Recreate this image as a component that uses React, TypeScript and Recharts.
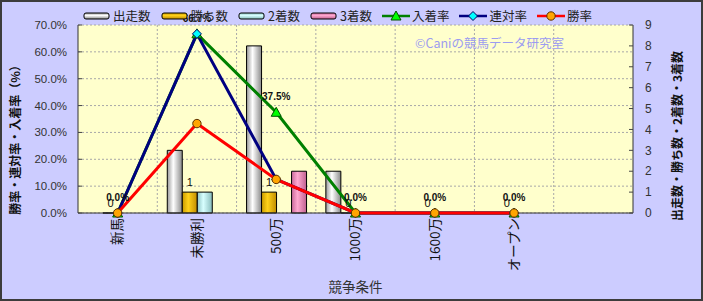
import React from 'react';
import {
  ComposedChart,
  Bar,
  Line,
  XAxis,
  YAxis,
  CartesianGrid,
  Legend,
  LabelList,
  Label,
  Customized,
} from 'recharts';

// ---- data ----
const CATEGORIES = ['新馬', '未勝利', '500万', '1000万', '1600万', 'オープン', ''];
const RUNS = [0, 3, 8, 2, 0, 0, null];
const WINS = [0, 1, 1, 0, 0, 0, null];
const SECONDS = [0, 1, 0, 0, 0, 0, null];
const THIRDS = [0, 0, 2, 0, 0, 0, null];
const PLACE_RATE = [0, 66.7, 37.5, 0, 0, 0, null];
const QUINELLA_RATE = [0, 66.7, 12.5, 0, 0, 0, null];
const WIN_RATE = [0, 33.3, 12.5, 0, 0, 0, null];
const LEFT_TICKS = [0, 10, 20, 30, 40, 50, 60, 70];
const RIGHT_TICKS = [0, 1, 2, 3, 4, 5, 6, 7, 8, 9];

const BAR_NAMES = ['出走数', '勝ち数', '2着数', '3着数'];
const LINE_NAMES = ['入着率', '連対率', '勝率'];

const data = CATEGORIES.map((cat, i) => ({
  cat,
  出走数: RUNS[i],
  勝ち数: WINS[i],
  '2着数': SECONDS[i],
  '3着数': THIRDS[i],
  入着率: PLACE_RATE[i],
  連対率: QUINELLA_RATE[i],
  勝率: WIN_RATE[i],
}));

const JP = '"Noto Sans CJK JP", "Noto Sans", sans-serif';
const LAT = '"Liberation Sans", Arial, sans-serif';

const GRADS = [
  { id: 'gRun', dark: '#9a9a9a', light: '#ffffff', dark2: '#8a8a8a' },
  { id: 'gWin', dark: '#c89a00', light: '#ffd21a', dark2: '#c08c00' },
  { id: 'gSec', dark: '#8fc4c4', light: '#d8ffff', dark2: '#88bcbc' },
  { id: 'gThi', dark: '#c8689a', light: '#ffa8d0', dark2: '#c06090' },
];

const LINE_STYLE = {
  入着率: { stroke: '#008000', fill: '#00ff00', mark: 'tri' },
  連対率: { stroke: '#000080', fill: '#00ffff', mark: 'dia' },
  勝率: { stroke: '#ff0000', fill: '#ffa500', mark: 'cir' },
};

const marker = (kind: string, cx: number, cy: number, fill: string, key?: any) => {
  if (kind === 'tri')
    return (
      <polygon
        key={key}
        points={`${cx},${cy - 5} ${cx - 5},${cy + 4} ${cx + 5},${cy + 4}`}
        fill={fill}
        stroke="#005000"
        strokeWidth={1}
      />
    );
  if (kind === 'dia')
    return (
      <polygon
        key={key}
        points={`${cx},${cy - 4.5} ${cx + 4.5},${cy} ${cx},${cy + 4.5} ${cx - 4.5},${cy}`}
        fill={fill}
        stroke="#000060"
        strokeWidth={1}
      />
    );
  return <circle key={key} cx={cx} cy={cy} r={4.2} fill={fill} stroke="#5a3000" strokeWidth={1} />;
};

const makeDot = (kind: string, fill: string) => (props: any) => {
  const { cx, cy, index } = props;
  if (cx == null || cy == null || props.value == null) return <g key={`d${index}`} />;
  return marker(kind, cx, cy, fill, `d${index}`);
};

const LegendContent = () => (
  <div
    style={{
      display: 'flex',
      alignItems: 'center',
      fontFamily: JP,
      fontSize: 12.5,
      color: '#222',
      whiteSpace: 'nowrap',
      height: 16,
      lineHeight: '16px',
    }}
  >
    {BAR_NAMES.map((n, i) => (
      <div key={n} style={{ display: 'flex', alignItems: 'center', marginRight: 10 }}>
        <svg width={27} height={10} style={{ marginRight: 3 }}>
          <rect x={1} y={2} width={25} height={6} rx={2} fill={`url(#L${GRADS[i].id})`} stroke="#000" strokeWidth={1} />
        </svg>
        <span>{n}</span>
      </div>
    ))}
    {LINE_NAMES.map((n) => {
      const s = (LINE_STYLE as any)[n];
      return (
        <div key={n} style={{ display: 'flex', alignItems: 'center', marginRight: 10 }}>
          <svg width={28} height={12} style={{ marginRight: 2 }}>
            <line x1={0} y1={6} x2={28} y2={6} stroke={s.stroke} strokeWidth={2.5} />
            {marker(s.mark, 14, 6, s.fill)}
          </svg>
          <span>{n}</span>
        </div>
      );
    })}
    <svg width={0} height={0} style={{ position: 'absolute' }}>
      <defs>
        {GRADS.map((g) => (
          <linearGradient key={g.id} id={`L${g.id}`} x1="0" y1="0" x2="0" y2="1">
            <stop offset="0%" stopColor={g.dark} />
            <stop offset="40%" stopColor={g.light} />
            <stop offset="100%" stopColor={g.dark2} />
          </linearGradient>
        ))}
      </defs>
    </svg>
  </div>
);

const LeftTick = (props: any) => {
  const { x, y, payload } = props;
  return (
    <g>
      <line x1={x + 11} y1={y} x2={x + 15} y2={y} stroke="#444" />
      <text x={x} y={y} dy="0.35em" textAnchor="end" fontSize={11.5} fontFamily={LAT} fill="#333">
        {Number(payload.value).toFixed(1) + '%'}
      </text>
    </g>
  );
};

const RightTick = (props: any) => {
  const { x, y, payload } = props;
  return (
    <g>
      <line x1={x - 12} y1={y} x2={x - 16} y2={y} stroke="#444" />
      <text x={x} y={y} dy="0.35em" textAnchor="start" fontSize={12} fontFamily={LAT} fill="#333">
        {payload.value}
      </text>
    </g>
  );
};

const XTick = (props: any) => {
  const { x, y, payload } = props;
  if (!payload.value) return <g />;
  return (
    <text
      x={x}
      y={y}
      dy="0.35em"
      textAnchor="end"
      transform={`rotate(-90, ${x}, ${y})`}
      fontSize={13.5}
      fontFamily={JP}
      fill="#111"
    >
      {payload.value}
    </text>
  );
};

const WinLabel = (props: any) => {
  const { x, y, width, value } = props;
  if (value == null || x == null || y == null) return null;
  return (
    <text
      x={Number(x) + Number(width || 0) / 2}
      y={Number(y) - 6}
      textAnchor="middle"
      fontSize={11}
      fontFamily={LAT}
      fill="#111"
    >
      {String(value)}
    </text>
  );
};

const Watermark = () => (
  <text x={415} y={48} fontSize={12.5} fontFamily={JP} fill="#9c9cf0">
    ©Caniの競馬データ研究室
  </text>
);

const vGen = (p: any) => {
  const { offset } = p;
  const n = CATEGORIES.length;
  const arr: number[] = [];
  for (let i = 1; i < n; i++) arr.push(offset.left + (offset.width * i) / n);
  return arr;
};

export default function App() {
  return (
    <div style={{ position: 'fixed', left: 0, top: 0, width: 703, height: 301, background: '#ccccff' }}>
      <ComposedChart
        width={703}
        height={301}
        data={data}
        margin={{ top: 25, right: 0, bottom: 0, left: 0 }}
        barCategoryGap="12.6%"
        barGap={0}
      >
        <defs>
          {GRADS.map((g) => (
            <linearGradient key={g.id} id={g.id} x1="0" y1="0" x2="1" y2="0">
              <stop offset="0%" stopColor={g.dark} />
              <stop offset="40%" stopColor={g.light} />
              <stop offset="100%" stopColor={g.dark2} />
            </linearGradient>
          ))}
        </defs>
        <CartesianGrid
          yAxisId="left"
          fill="#ffffcc"
          stroke="#a8a8a8"
          strokeDasharray="2 2"
          verticalCoordinatesGenerator={vGen}
        />
        <XAxis
          dataKey="cat"
          interval={0}
          height={88}
          tick={<XTick />}
          tickSize={0}
          tickMargin={5}
          tickLine={false}
          axisLine={{ stroke: '#333' }}
        >
          <Label
            value="競争条件"
            position="insideBottom"
            offset={9}
            fontSize={13.5}
            fontFamily={JP}
            fill="#333"
          />
        </XAxis>
        <YAxis
          yAxisId="left"
          width={78}
          domain={[0, 70]}
          ticks={LEFT_TICKS}
          interval={0}
          tick={<LeftTick />}
          tickSize={0}
          tickMargin={11}
          tickLine={false}
          axisLine={{ stroke: '#333' }}
        >
          <Label
            content={(p: any) => {
              const vb = p.viewBox;
              const cx = vb.x + 16;
              const cy = vb.y + vb.height / 2 + 18;
              return (
                <text
                  x={cx}
                  y={cy}
                  dy="0.35em"
                  textAnchor="middle"
                  transform={`rotate(-90, ${cx}, ${cy})`}
                  fontSize={12}
                  fontWeight="bold"
                  fontFamily={JP}
                  fill="#111"
                >
                  勝率・連対率・入着率（%）
                </text>
              );
            }}
          />
        </YAxis>
        <YAxis
          yAxisId="right"
          orientation="right"
          width={70}
          domain={[0, 9]}
          ticks={RIGHT_TICKS}
          interval={0}
          tick={<RightTick />}
          tickSize={0}
          tickMargin={12}
          tickLine={false}
          axisLine={{ stroke: '#333' }}
        >
          <Label
            content={(p: any) => {
              const vb = p.viewBox;
              const cx = vb.x + 45;
              const cy = vb.y + vb.height / 2 + 17;
              return (
                <text
                  x={cx}
                  y={cy}
                  dy="0.35em"
                  textAnchor="middle"
                  transform={`rotate(-90, ${cx}, ${cy})`}
                  fontSize={12}
                  fontWeight="bold"
                  fontFamily={JP}
                  fill="#111"
                >
                  出走数・勝ち数・2着数・3着数
                </text>
              );
            }}
          />
        </YAxis>
        <Legend
          content={<LegendContent />}
          verticalAlign="top"
          wrapperStyle={{ left: 83, top: 8, width: 600, height: 0 }}
        />
        {BAR_NAMES.map((n, i) => (
          <Bar
            key={n}
            yAxisId="right"
            dataKey={n}
            name={n}
            fill={`url(#${GRADS[i].id})`}
            stroke="#000"
            strokeWidth={1}
            minPointSize={n === '勝ち数' ? 0.01 : 0}
            isAnimationActive={false}
          >
            {n === '勝ち数' ? <LabelList dataKey={n} content={WinLabel} /> : null}
          </Bar>
        ))}
        {LINE_NAMES.map((n) => {
          const s = (LINE_STYLE as any)[n];
          return (
            <Line
              key={n}
              yAxisId="left"
              type="linear"
              dataKey={n}
              name={n}
              stroke={s.stroke}
              strokeWidth={3}
              dot={makeDot(s.mark, s.fill)}
              activeDot={false}
              isAnimationActive={false}
              {...({ zIndex: 550 } as any)}
            >
              {n === '入着率' ? (
                <LabelList
                  dataKey={n}
                  position="top"
                  offset={12}
                  fontSize={10}
                  fontWeight="bold"
                  fontFamily={LAT}
                  fill="#111"
                  formatter={(v: any) => (v == null ? '' : Number(v).toFixed(1) + '%')}
                />
              ) : null}
            </Line>
          );
        })}
        <Customized component={Watermark} />
      </ComposedChart>
      <div
        style={{
          position: 'absolute',
          left: 0,
          top: 0,
          width: 703,
          height: 301,
          boxSizing: 'border-box',
          border: '2px solid #3c3c3c',
          pointerEvents: 'none',
        }}
      />
    </div>
  );
}
